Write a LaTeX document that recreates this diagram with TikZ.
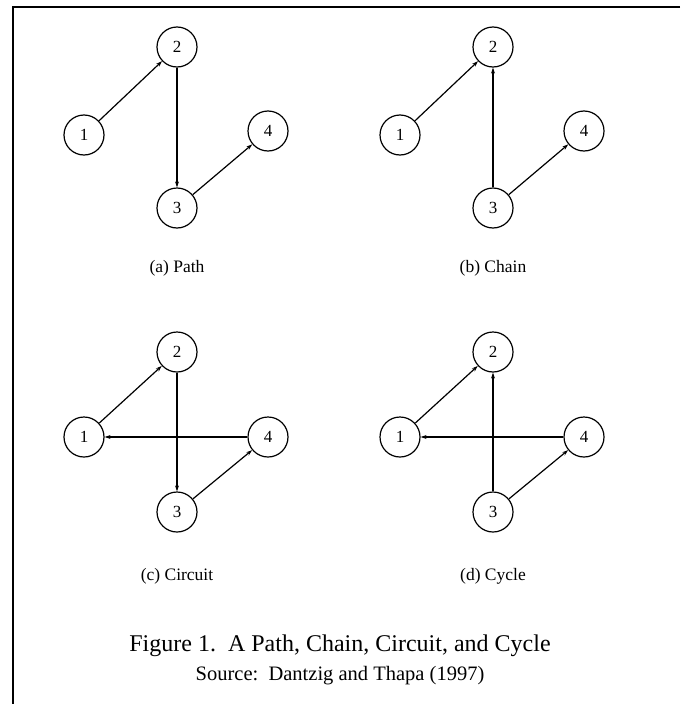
\documentclass[tikz,border=0pt]{standalone}
\usepackage{fontspec}
\setmainfont{Liberation Serif}
\usetikzlibrary{arrows.meta}
\begin{document}
\begin{tikzpicture}[x=1pt,y=-1pt,
  vtx/.style={circle,draw,line width=1.2pt,minimum size=40pt,inner sep=0pt,font=\fontsize{17}{17}\selectfont},
  edge/.style={line width=1.2pt,-{Stealth[length=6pt,width=4pt]}},
  sublabel/.style={font=\fontsize{17.5}{17.5}\selectfont},
  frame/.style={line width=1.6pt}]
\useasboundingbox (0,0) rectangle (680,704);
\coordinate (tl) at (13,7);
\coordinate (tr) at (680,7);
\coordinate (bl) at (13,704);
\draw[frame] (tr) -- (tl) -- (bl);
% (a) Path
\node[vtx] (a1) at (84,135) {1};
\node[vtx] (a2) at (177,47) {2};
\node[vtx] (a3) at (177,208) {3};
\node[vtx] (a4) at (268,131) {4};
\draw[edge] (a1) -- (a2);
\draw[edge] (a2) -- (a3);
\draw[edge] (a3) -- (a4);
\node[sublabel] (la) at (177,268) {(a) Path};
% (b) Chain
\node[vtx] (b1) at (400,135) {1};
\node[vtx] (b2) at (493,47) {2};
\node[vtx] (b3) at (493,208) {3};
\node[vtx] (b4) at (584,131) {4};
\draw[edge] (b1) -- (b2);
\draw[edge] (b3) -- (b2);
\draw[edge] (b3) -- (b4);
\node[sublabel] (lb) at (493,268) {(b) Chain};
% (c) Circuit
\node[vtx] (c1) at (84,437) {1};
\node[vtx] (c2) at (177,352) {2};
\node[vtx] (c3) at (177,512) {3};
\node[vtx] (c4) at (268,437) {4};
\draw[edge] (c1) -- (c2);
\draw[edge] (c2) -- (c3);
\draw[edge] (c3) -- (c4);
\draw[edge] (c4) -- (c1);
\node[sublabel] (lc) at (177,576) {(c) Circuit};
% (d) Cycle
\node[vtx] (d1) at (400,437) {1};
\node[vtx] (d2) at (493,352) {2};
\node[vtx] (d3) at (493,512) {3};
\node[vtx] (d4) at (584,437) {4};
\draw[edge] (d1) -- (d2);
\draw[edge] (d3) -- (d2);
\draw[edge] (d3) -- (d4);
\draw[edge] (d4) -- (d1);
\node[sublabel] (ld) at (493,576) {(d) Cycle};
% caption
\node[font=\fontsize{24}{24}\selectfont] (title) at (340,646) {Figure 1.\ \ A Path, Chain, Circuit, and Cycle};
\node[font=\fontsize{20.5}{20.5}\selectfont] (src) at (340,676) {Source:\ \ Dantzig and Thapa (1997)};
\end{tikzpicture}
\end{document}
